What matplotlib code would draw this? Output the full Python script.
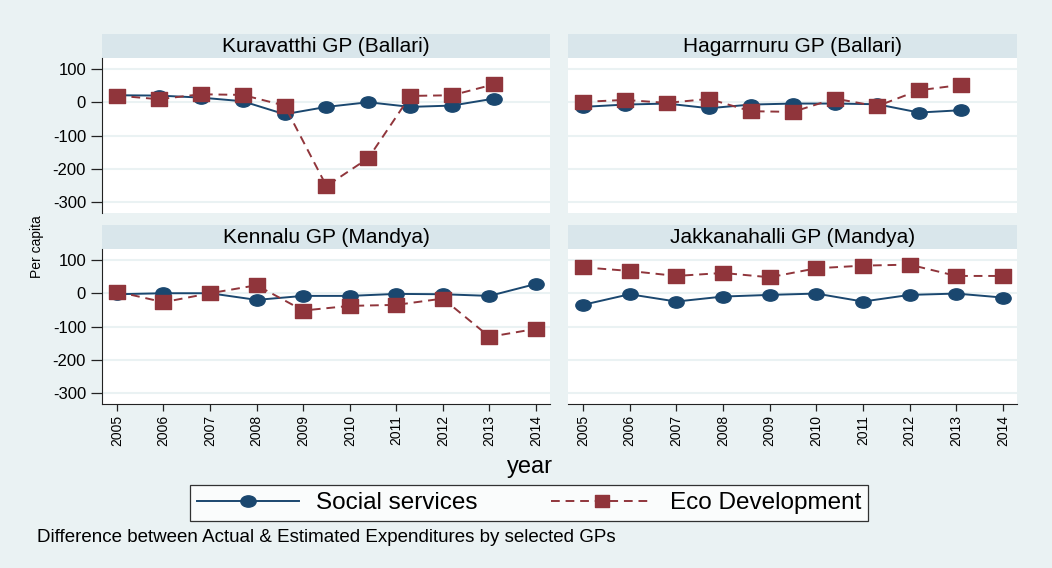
import matplotlib
matplotlib.use("Agg")
import matplotlib.pyplot as plt
from matplotlib.lines import Line2D
from matplotlib.path import Path

plt.rcParams['font.family'] = ['Liberation Sans', 'DejaVu Sans']

# panel titles
panels = ['Kuravatthi GP (Ballari)', 'Hagarrnuru GP (Ballari)',
          'Kennalu GP (Mandya)', 'Jakkanahalli GP (Mandya)']

years = [2005, 2006, 2007, 2008, 2009, 2010, 2011, 2012, 2013, 2014]
# the Ballari panels' points sit slightly left of the year ticks in the source
years_top = [2005, 2005.9, 2006.8, 2007.7, 2008.6, 2009.5, 2010.4, 2011.3, 2012.2, 2013.1]

social = [
    [21, 20, 14, 3, -36, -14, 0, -14, -10, 11],
    [-14, -7, -4, -18, -7, -4, -4, -6, -31, -24],
    [-3, 0, 0, -20, -8, -8, -2, -3, -8, 28],
    [-35, -3, -25, -10, -5, -1, -25, -5, -1, -13],
]
eco = [
    [20, 9, 24, 22, -10, -252, -168, 19, 21, 54],
    [1, 7, -2, 10, -27, -29, 11, -12, 36, 52],
    [5, -27, 0, 24, -52, -38, -35, -16, -131, -107],
    [78, 67, 52, 61, 48, 75, 83, 86, 52, 52],
]
yticks = [100, 0, -100, -200, -300]

navy = '#1A476F'
maroon = '#90353B'
bg = '#EAF2F3'
strip = '#D9E6EB'

# markers in the source are a bit wider than tall
circ = Path.unit_circle()
oval = Path(circ.vertices * [1.35, 1.0], circ.codes)
rect = Path([(-1.25, -1), (1.25, -1), (1.25, 1), (-1.25, 1), (-1.25, -1)],
            [Path.MOVETO, Path.LINETO, Path.LINETO, Path.LINETO, Path.CLOSEPOLY])
dash = (0, (4.5, 3))

W, H = 1052, 568
fig = plt.figure(figsize=(W / 100, H / 100), dpi=100, facecolor=bg)

def box(x0, y0, x1, y1):
    return [x0 / W, 1 - y1 / H, (x1 - x0) / W, (y1 - y0) / H]

# pixel boxes: (plot x0, x1, strip top, plot top, plot bottom)
boxes = [(102, 550, 34, 58, 213), (568, 1017, 34, 58, 213),
         (102, 550, 225, 249, 404), (568, 1017, 225, 249, 404)]

for i, (x0, x1, st, pt, pb) in enumerate(boxes):
    sax = fig.add_axes(box(x0, st, x1, pt), facecolor=strip)
    sax.set_xticks([]); sax.set_yticks([])
    for s in sax.spines.values():
        s.set_visible(False)
    sax.text(0.5, 0.48, panels[i], ha='center', va='center', fontsize=15,
             transform=sax.transAxes)

    ax = fig.add_axes(box(x0, pt, x1, pb), facecolor='white')
    xs = years_top if i < 2 else years
    ax.plot(xs, social[i], color=navy, lw=1.4, marker=oval, ms=11, zorder=3)
    ax.plot(xs, eco[i], color=maroon, lw=1.4, ls=dash, marker=rect, ms=12, zorder=3)
    ax.set_xlim(2004.68, 2014.3)
    ax.set_ylim(-333, 133)
    ax.set_yticks(yticks)
    ax.grid(axis='y', color=bg, lw=1.5)
    ax.set_axisbelow(True)
    for s in ['top', 'right']:
        ax.spines[s].set_visible(False)
    ax.tick_params(axis='y', labelsize=12, length=8, width=0.9, color='#222222')
    ax.tick_params(axis='x', labelsize=10, length=5, width=0.9, color='#222222', pad=3)
    if i % 2 == 0:
        ax.set_yticklabels([str(v) for v in yticks])
        ax.spines['left'].set_color('#222222')
    else:
        ax.spines['left'].set_visible(False)
        ax.tick_params(axis='y', left=False, labelleft=False)
    if i >= 2:
        ax.set_xticks(years)
        ax.set_xticklabels([str(y) for y in years], rotation=90)
        ax.spines['bottom'].set_color('#222222')
    else:
        ax.spines['bottom'].set_visible(False)
        ax.set_xticks([])

fig.text(37 / W, 1 - 247 / H, 'Per capita', rotation=90, ha='center', va='center', fontsize=10)
fig.text(530 / W, 1 - 467 / H, 'year', ha='center', va='center', fontsize=17)

handles = [Line2D([], [], color=navy, lw=1.4, marker=oval, ms=11),
           Line2D([], [], color=maroon, lw=1.4, ls=dash, marker=rect, ms=10)]
leg = fig.legend(handles, ['Social services', 'Eco Development'], ncol=2,
                 loc='center', bbox_to_anchor=(529 / W, 1 - 503 / H),
                 fontsize=17.5, frameon=True, fancybox=False, edgecolor='black',
                 handlelength=4.2, handletextpad=0.7, columnspacing=3.0,
                 borderpad=0.3, borderaxespad=0)
leg.get_frame().set_linewidth(0.9)

fig.text(37 / W, 1 - 538 / H, 'Difference between Actual & Estimated Expenditures by selected GPs',
         ha='left', va='center', fontsize=13.5)

fig.savefig('out.png', dpi=100, facecolor=bg)
